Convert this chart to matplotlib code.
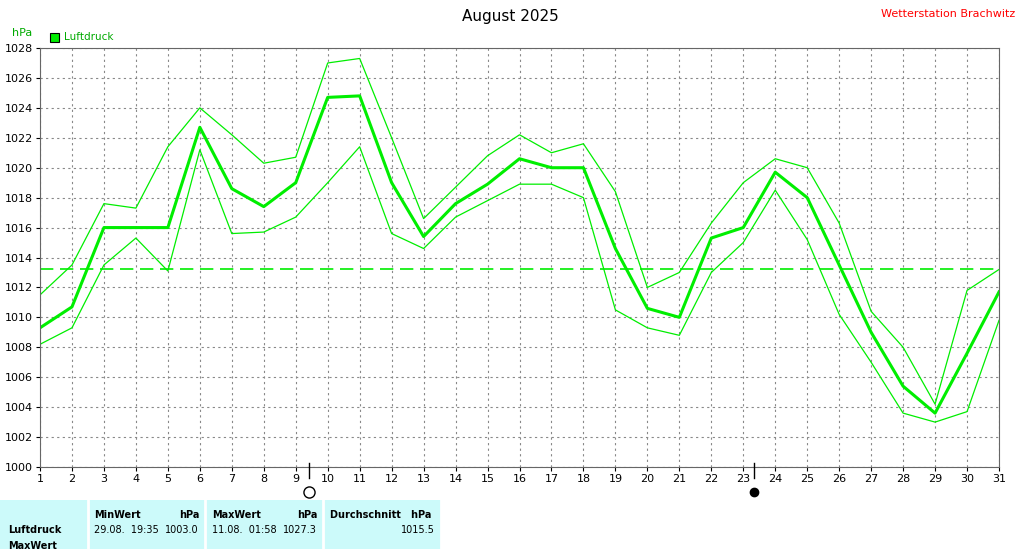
import matplotlib
matplotlib.use("Agg")
import matplotlib.pyplot as plt
from matplotlib.patches import Rectangle

days = list(range(1, 32))
mean_p = [1009.3,1010.7,1016,1016,1016,1022.7,1018.6,1017.4,1019,1024.7,1024.8,1019,1015.4,1017.6,1018.9,1020.6,
          1020,1020,1014.6,1010.6,1010,1015.3,1016,1019.7,1018,1013.5,1009,1005.4,1003.6,1007.6,1011.7]
max_p = [1011.5,1013.5,1017.6,1017.3,1021.4,1024,1022.2,1020.3,1020.7,1027,1027.3,1022,1016.6,1018.7,1020.8,1022.2,
         1021,1021.6,1018.4,1012,1013,1016.3,1019,1020.6,1020,1016.3,1010.4,1008,1004.2,1011.8,1013.2]
min_p = [1008.2,1009.3,1013.5,1015.3,1013.1,1021.2,1015.6,1015.7,1016.7,1019,1021.4,1015.6,1014.6,1016.7,1017.8,1018.9,
         1018.9,1018,1010.5,1009.3,1008.8,1013,1015,1018.5,1015.2,1010.2,1007,1003.6,1003,1003.7,1009.8]
avg_p = 1015.5
avg_line = 1013.2
moon_full = 9.4
moon_new = 23.35

W, H = 1021, 549
fig = plt.figure(figsize=(W/100, H/100), dpi=100)
ax = fig.add_axes([40/W, 1-467/H, (999-40)/W, (467-48)/H])
green = "#00ee00"
ax.plot(days, max_p, color=green, lw=0.9)
ax.plot(days, min_p, color=green, lw=0.9)
ax.plot(days, mean_p, color=green, lw=2.2)
ax.axhline(avg_line, color=green, lw=1.2, ls=(0, (8, 4)))
ax.set_xlim(1, 31)
ax.set_ylim(1000, 1028)
ax.set_xticks(days)
ax.set_yticks(range(1000, 1029, 2))
ax.tick_params(labelsize=8, length=3, pad=2)
ax.grid(True, color="#888888", ls=(0, (2, 3)), lw=0.8)
for s in ax.spines.values():
    s.set_color("#666666")

fig.text(0.5, 1-16/H, "August 2025", ha="center", va="center", fontsize=11)
fig.text(1015/W, 1-14/H, "Wetterstation Brachwitz", ha="right", va="center", fontsize=8, color="red")
fig.text(12/W, 1-33/H, "hPa", ha="left", va="center", fontsize=8, color="#00aa00")
fig.patches.append(Rectangle((50/W, 1-42/H), 9/W, 9/H, transform=fig.transFigure,
                             facecolor=green, edgecolor="black", lw=0.8))
fig.text(64/W, 1-37/H, "Luftdruck", ha="left", va="center", fontsize=7.5, color="#00aa00")

for d, fc in [(moon_full, "white"), (moon_new, "black")]:
    xf = (40 + (d-1)/30*959)/W
    fig.add_artist(plt.Line2D([xf, xf], [1-463/H, 1-478/H], color="black", lw=1))
    fig.add_artist(plt.Line2D([xf], [1-492/H], marker="o", markersize=8 if fc=="white" else 6,
                              markerfacecolor=fc, markeredgecolor="black", ls=""))

fig.patches.append(Rectangle((0, 0), 1, 49/H, transform=fig.transFigure, facecolor="#ccfafa", edgecolor="none"))
for xs in [88, 205, 323, 441]:
    fig.add_artist(plt.Line2D([xs/W]*2, [0, 49/H], color="white", lw=2))
fig.patches.append(Rectangle((441/W, 0), 1, 49/H, transform=fig.transFigure, facecolor="white", edgecolor="none"))
fs = 7
yh = 1-515/H; yv = 1-530/H
fig.text(8/W, yv, "Luftdruck", fontsize=fs, weight="bold", va="center")
fig.text(8/W, 1-546/H, "MaxWert", fontsize=fs, weight="bold", va="center")
fig.text(94/W, yh, "MinWert", fontsize=fs, weight="bold", va="center")
fig.text(199/W, yh, "hPa", fontsize=fs, weight="bold", va="center", ha="right")
fig.text(94/W, yv, "29.08.  19:35", fontsize=fs, va="center")
fig.text(199/W, yv, "1003.0", fontsize=fs, va="center", ha="right")
fig.text(212/W, yh, "MaxWert", fontsize=fs, weight="bold", va="center")
fig.text(317/W, yh, "hPa", fontsize=fs, weight="bold", va="center", ha="right")
fig.text(212/W, yv, "11.08.  01:58", fontsize=fs, va="center")
fig.text(317/W, yv, "1027.3", fontsize=fs, va="center", ha="right")
fig.text(330/W, yh, "Durchschnitt   hPa", fontsize=fs, weight="bold", va="center")
fig.text(435/W, yv, f"{avg_p:.1f}", fontsize=fs, va="center", ha="right")

fig.savefig("out.png", dpi=100)
